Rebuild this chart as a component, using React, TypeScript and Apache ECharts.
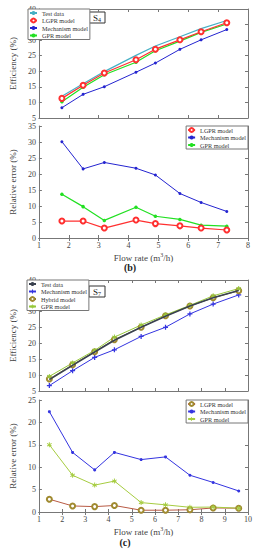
import React, { useEffect, useRef } from 'react';
import * as echarts from 'echarts';

// Panel (b): S4
const flowB = [1.77, 2.48, 3.19, 4.25, 4.9, 5.72, 6.43, 7.29];
const effTestB = [12.0, 16.0, 19.9, 25.1, 28.1, 31.1, 33.7, 36.3];
const effLgprB = [11.3, 15.5, 19.45, 23.7, 27.1, 30.1, 32.7, 35.6];
const effMechB = [8.3, 12.6, 15.05, 19.7, 22.65, 27.05, 30.1, 33.4];
const effGprB = [10.2, 14.85, 18.9, 22.9, 26.6, 29.7, 32.5, 35.2];
const errLgprB = [5.3, 5.3, 3.1, 5.6, 4.5, 3.8, 3.1, 2.5];
const errMechB = [30.1, 21.6, 23.6, 21.8, 19.7, 13.9, 11.1, 8.3];
const errGprB = [13.7, 9.8, 5.5, 9.6, 6.8, 5.8, 4.0, 3.7];

// Panel (c): S7
const flowC = [1.45, 2.45, 3.4, 4.25, 5.4, 6.45, 7.5, 8.5, 9.6];
const effTestC = [8.6, 13.1, 17.3, 21.0, 25.1, 28.6, 31.8, 34.4, 36.7];
const effMechC = [6.7, 11.4, 15.6, 18.0, 22.2, 25.1, 29.3, 32.4, 35.3];
const effHybridC = [8.8, 13.3, 17.4, 21.2, 25.1, 28.7, 31.8, 34.4, 36.6];
const effGprC = [9.6, 13.85, 17.8, 22.0, 25.8, 29.0, 32.0, 35.0, 37.3];
const errLgprC = [2.85, 1.35, 1.2, 1.45, 0.4, 0.4, 0.5, 0.9, 0.85];
const errMechC = [22.4, 13.3, 9.4, 13.3, 11.7, 12.3, 8.2, 6.6, 4.7];
const errGprC = [15.0, 8.2, 6.0, 6.9, 2.1, 1.6, 1.05, 1.1, 0.85];

const FONT = 'Liberation Serif';
const pts = (xs: number[], ys: number[]) => xs.map((x, i) => [x, ys[i]]);
const PLUS = 'path://M3,0H5V3H8V5H5V8H3V5H0V3H3Z';
const STAR = 'path://M3.3,0H4.7V2.6L7,1.3L7.7,2.5L5.4,4L7.7,5.5L7,6.7L4.7,5.4V8H3.3V5.4L1,6.7L0.3,5.5L2.6,4L0.3,2.5L1,1.3L3.3,2.6Z';

const grids = [
  { left: 28, top: 9, width: 220, height: 109 },
  { left: 28, top: 126, width: 220, height: 112 },
  { left: 27, top: 280, width: 221, height: 111 },
  { left: 27, top: 400, width: 221, height: 112 },
];
const xRanges = [[1, 8], [1, 8], [1, 10], [1, 10]];
const yRanges = [[5, 40], [0, 35], [5, 40], [0, 25]];
const yNames = ['Efficiency (%)', 'Relative error (%)', 'Efficiency (%)', 'Relative error (%)'];
const showXLabel = [false, true, false, true];

export default function App() {
  const ref = useRef<HTMLDivElement>(null);
  useEffect(() => {
    document.body.style.margin = '0';
    const chart = echarts.init(ref.current!, null, { renderer: 'svg' });
    const axisLineStyle = { color: '#777', width: 1 };
    const xAxis: any[] = [];
    const yAxis: any[] = [];
    grids.forEach((g, i) => {
      xAxis.push({
        type: 'value', gridIndex: i, min: xRanges[i][0], max: xRanges[i][1], interval: 1,
        axisLine: { show: true, lineStyle: axisLineStyle },
        axisTick: { show: true, inside: true, length: 3, lineStyle: axisLineStyle },
        axisLabel: { show: showXLabel[i], fontFamily: FONT, fontSize: 8, color: '#444', margin: 3 },
        splitLine: { show: false },
        name: showXLabel[i] ? '{a|Flow rate (m}{s|3}{a|/h)}' : '',
        nameLocation: 'middle', nameGap: 14,
        nameTextStyle: { rich: { a: { fontFamily: FONT, fontSize: 9, color: '#444' }, s: { fontFamily: FONT, fontSize: 6, color: '#444', verticalAlign: 'top', padding: [0, 0, 6, 0] } } },
      });
      xAxis.push({
        type: 'value', gridIndex: i, position: 'top', min: xRanges[i][0], max: xRanges[i][1], interval: 1,
        axisLine: { show: true, lineStyle: axisLineStyle },
        axisTick: { show: true, inside: true, length: 3, lineStyle: axisLineStyle },
        axisLabel: { show: false }, splitLine: { show: false },
      });
      yAxis.push({
        type: 'value', gridIndex: i, min: yRanges[i][0], max: yRanges[i][1], interval: 5,
        axisLine: { show: true, lineStyle: axisLineStyle },
        axisTick: { show: true, inside: true, length: 3, lineStyle: axisLineStyle },
        axisLabel: { fontFamily: FONT, fontSize: 8, color: '#444', margin: 3 },
        splitLine: { show: false },
        name: yNames[i], nameLocation: 'middle', nameGap: 15,
        nameTextStyle: { fontFamily: FONT, fontSize: 9, color: '#444' },
      });
      yAxis.push({
        type: 'value', gridIndex: i, position: 'right', min: yRanges[i][0], max: yRanges[i][1], interval: 5,
        axisLine: { show: true, lineStyle: axisLineStyle },
        axisTick: { show: true, inside: true, length: 3, lineStyle: axisLineStyle },
        axisLabel: { show: false }, splitLine: { show: false },
      });
    });

    const mk = (name: string, gi: number, xs: number[], ys: number[], color: string, lineColor: string, symbol: string, size: number, width = 1, z = 2) => ({
      name, type: 'line', xAxisIndex: gi * 2, yAxisIndex: gi * 2, data: pts(xs, ys),
      symbol, symbolSize: size, showSymbol: symbol !== 'none',
      itemStyle: { color, borderWidth: 1 },
      lineStyle: { color: lineColor, width }, z,
    });

    const series = [
      mk('Test data#1', 0, flowB, effTestB, '#45b0c4', '#45b0c4', 'none', 0, 1.2),
      mk('LGPR model#1', 0, flowB, effLgprB, '#ff3030', '#ff3030', 'emptyCircle', 5, 1.2, 3),
      mk('Mechanism model#1', 0, flowB, effMechB, '#2424d0', '#2424d0', 'circle', 3, 1),
      mk('GPR model#1', 0, flowB, effGprB, '#22e022', '#22e022', 'circle', 3.5, 1.2),
      mk('LGPR model#2', 1, flowB, errLgprB, '#ff3030', '#ff3030', 'emptyCircle', 5, 1.2, 3),
      mk('Mechanism model#2', 1, flowB, errMechB, '#2424d0', '#2424d0', 'circle', 3, 1),
      mk('GPR model#2', 1, flowB, errGprB, '#22e022', '#22e022', 'circle', 3.5, 1.2),
      mk('Test data#3', 2, flowC, effTestC, '#3a4250', '#3a4250', 'none', 0, 1.6, 3),
      mk('Mechanism model#3', 2, flowC, effMechC, '#3434e0', '#3434e0', PLUS, 5, 1),
      mk('Hybrid model#3', 2, flowC, effHybridC, '#a08a30', '#7a7040', 'emptyCircle', 5, 1),
      mk('GPR model#3', 2, flowC, effGprC, '#96c83a', '#96c83a', STAR, 5, 1),
      mk('LGPR model#4', 3, flowC, errLgprC, '#a08a30', '#b85a44', 'emptyCircle', 5, 1),
      mk('Mechanism model#4', 3, flowC, errMechC, '#3434e0', '#3434e0', 'circle', 3, 1),
      mk('GPR model#4', 3, flowC, errGprC, '#a6cc40', '#a6cc40', STAR, 5, 1),
    ];

    const legendBase = {
      orient: 'vertical', itemWidth: 7, itemHeight: 5, itemGap: 1.5,
      padding: [1, 2, 1, 1], borderColor: '#777', borderWidth: 1, backgroundColor: '#fff',
      borderRadius: 0,
      textStyle: { fontFamily: FONT, fontSize: 6.2, color: '#333' },
      formatter: (n: string) => n.split('#')[0],
      selectedMode: false,
    };
    const legend = [
      { ...legendBase, left: 28, top: 9, data: ['Test data#1', 'LGPR model#1', 'Mechanism model#1', 'GPR model#1'] },
      { ...legendBase, right: 8, top: 126, data: ['LGPR model#2', 'Mechanism model#2', 'GPR model#2'] },
      { ...legendBase, left: 27, top: 280, data: ['Test data#3', 'Mechanism model#3', 'Hybrid model#3', 'GPR model#3'] },
      { ...legendBase, right: 8, top: 400, data: ['LGPR model#4', 'Mechanism model#4', 'GPR model#4'] },
    ];

    const sBox = (x: number, y: number, sub: string) => ({
      type: 'group', x, y,
      children: [
        { type: 'rect', shape: { x: 0, y: 0, width: 16, height: 11 }, style: { fill: '#fff', stroke: '#333', lineWidth: 1 } },
        { type: 'text', x: 8, y: 5.5, style: { text: '{a|S}{b|' + sub + '}', align: 'center', verticalAlign: 'middle', rich: { a: { fontFamily: FONT, fontSize: 9, fill: '#222' }, b: { fontFamily: FONT, fontSize: 6, fill: '#222', padding: [5, 0, 0, 0] } } } },
      ],
    });

    chart.setOption({
      animation: false,
      backgroundColor: '#fff',
      grid: grids.map(g => ({ ...g, show: false, containLabel: false })),
      xAxis, yAxis, series, legend,
      graphic: [
        sBox(89, 12, '4'),
        sBox(89, 286, '7'),
        { type: 'text', x: 130, y: 267, style: { text: '(b)', align: 'center', verticalAlign: 'middle', fontFamily: FONT, fontSize: 10, fontWeight: 'bold', fill: '#222' } },
        { type: 'text', x: 125, y: 542, style: { text: '(c)', align: 'center', verticalAlign: 'middle', fontFamily: FONT, fontSize: 10, fontWeight: 'bold', fill: '#222' } },
      ],
    });
    return () => chart.dispose();
  }, []);
  return <div ref={ref} style={{ width: 256, height: 550 }} />;
}
